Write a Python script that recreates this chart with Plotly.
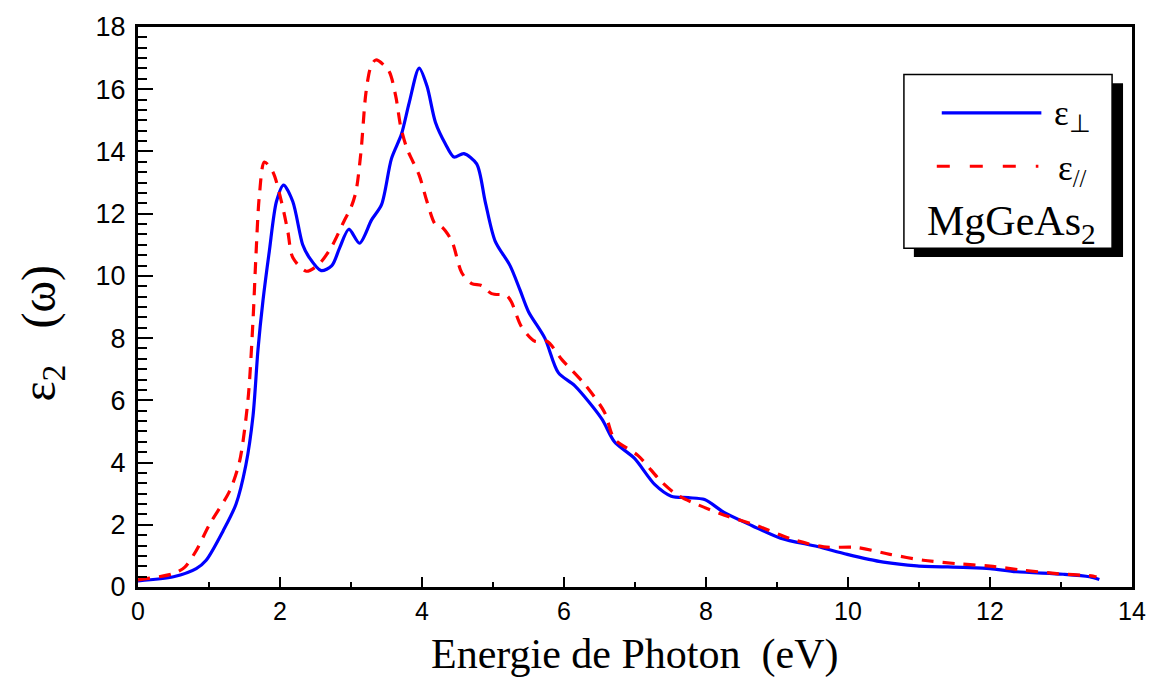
import plotly.graph_objects as go

# ---- data ----
e_perp = [0.0, 0.5, 0.82, 0.96, 1.2, 1.38, 1.52, 1.62, 1.69, 1.76, 1.85, 1.95, 2.05,
          2.18, 2.32, 2.41, 2.58, 2.73, 2.84, 2.97, 3.12, 3.29, 3.43, 3.57, 3.71, 3.82,
          3.96, 4.07, 4.19, 4.33, 4.45, 4.59, 4.77, 4.89, 5.03, 5.24, 5.38, 5.50, 5.73,
          5.92, 6.15, 6.53, 6.71, 6.99, 7.28, 7.51, 7.75, 7.98, 8.26, 8.65, 9.05, 9.57,
          9.99, 10.5, 10.97, 11.62, 12.0, 12.37, 13.03, 13.4, 13.54]
v_perp = [0.2, 0.33, 0.59, 0.86, 1.81, 2.66, 3.93, 5.5, 7.63, 9.2, 10.8, 12.39, 12.92,
          12.39, 11.0, 10.6, 10.17, 10.33, 10.9, 11.5, 11.05, 11.8, 12.29, 13.77, 14.55, 15.57,
          16.68, 16.1, 14.93, 14.24, 13.82, 13.93, 13.6, 12.39, 11.12, 10.33, 9.55, 8.85, 8.0,
          6.89, 6.47, 5.41, 4.67, 4.14, 3.29, 2.92, 2.87, 2.81, 2.39, 1.97, 1.57, 1.30,
          1.05, 0.80, 0.68, 0.63, 0.59, 0.49, 0.41, 0.33, 0.24]

e_par = [0.0, 0.5, 0.66, 0.82, 1.01, 1.29, 1.43, 1.55, 1.62, 1.66, 1.71, 1.78, 1.90,
         2.02, 2.11, 2.18, 2.37, 2.55, 2.73, 2.90, 3.0, 3.07, 3.14, 3.21, 3.28, 3.35,
         3.53, 3.63, 3.70, 3.79, 3.96, 4.07, 4.19, 4.28, 4.42, 4.56, 4.70, 4.84, 4.98,
         5.19, 5.26, 5.40, 5.59, 5.76, 5.97, 6.29, 6.57, 6.71, 7.04, 7.37, 7.6, 7.88,
         8.26, 8.72, 9.19, 9.66, 10.13, 10.59, 11.06, 11.53, 12.0, 12.47, 12.94, 13.45, 13.5]
v_par = [0.23, 0.43, 0.64, 1.17, 2.02, 3.08, 4.03, 6.04, 8.58, 10.59, 12.6, 13.66, 13.34,
         12.39, 11.43, 10.59, 10.15, 10.38, 10.95, 11.75, 12.2, 12.71, 13.98, 15.88, 16.73, 16.94,
         16.6, 15.78, 14.8, 14.08, 13.24, 12.39, 11.65, 11.57, 11.12, 10.1, 9.75, 9.69, 9.43,
         9.37, 9.16, 8.37, 7.9, 7.9, 7.31, 6.52, 5.62, 4.76, 4.23, 3.39, 2.95, 2.65,
         2.31, 1.97, 1.55, 1.29, 1.27, 1.05, 0.86, 0.75, 0.67, 0.54, 0.43, 0.35, 0.32]

x_ticks = [0, 2, 4, 6, 8, 10, 12, 14]
y_ticks = [0, 2, 4, 6, 8, 10, 12, 14, 16, 18]

# ---- layout geometry (pixels) ----
W, H = 1158, 678
L, R, T, B = 138, 1136, 20, 587
PW, PH = R - L, B - T


def px(x):
    return (x - L) / PW


def py(y):
    return (B - y) / PH


fig = go.Figure()
fig.add_trace(go.Scatter(x=e_perp, y=v_perp, mode="lines", name="perp",
                         line=dict(color="#0000FF", width=3.2, shape="spline", smoothing=0.8),
                         showlegend=False))
fig.add_trace(go.Scatter(x=e_par, y=v_par, mode="lines", name="par",
                         line=dict(color="#FF0000", width=3.2, dash="12px,9px",
                                   shape="spline", smoothing=0.8),
                         showlegend=False))

axis_common = dict(showgrid=False, zeroline=False, showline=True, linecolor="black",
                   linewidth=3, mirror=True, ticks="inside", tickcolor="black",
                   tickwidth=2)

fig.update_xaxes(range=[0, 14], tickvals=x_ticks, ticklen=10,
                 tickfont=dict(family="Liberation Sans", size=25, color="black"),
                 minor=dict(dtick=1, ticklen=5, tickwidth=2, ticks="inside", tickcolor="black"),
                 **axis_common)
fig.update_yaxes(range=[0, 18], tickvals=y_ticks, ticklen=15, ticklabelstandoff=4,
                 tickfont=dict(family="Liberation Sans", size=27, color="black"),
                 minor=dict(dtick=2/6, ticklen=9, tickwidth=2, ticks="inside", tickcolor="black"),
                 **axis_common)

shapes = []
# legend shadow and box
shapes.append(dict(type="rect", xref="paper", yref="paper",
                   x0=px(917), x1=px(1127), y0=py(253), y1=py(77),
                   fillcolor="black", line=dict(width=0), layer="above"))
shapes.append(dict(type="rect", xref="paper", yref="paper",
                   x0=px(907), x1=px(1116), y0=py(244), y1=py(68),
                   fillcolor="white", line=dict(color="black", width=1.5), layer="above"))
# legend line samples
shapes.append(dict(type="line", xref="paper", yref="paper",
                   x0=px(945), x1=px(1045), y0=py(107), y1=py(107),
                   line=dict(color="#0000FF", width=3.2), layer="above"))
shapes.append(dict(type="line", xref="paper", yref="paper",
                   x0=px(940), x1=px(1042), y0=py(161), y1=py(161),
                   line=dict(color="#FF0000", width=3.2, dash="13px,20px"), layer="above"))

ann = []
serif = "Liberation Serif"
ann.append(dict(xref="paper", yref="paper", x=px(1056), y=py(110), xanchor="left",
                yanchor="middle", showarrow=False, text="ε<sub>⊥</sub>",
                font=dict(family=serif, size=35, color="black")))
ann.append(dict(xref="paper", yref="paper", x=px(1060), y=py(165), xanchor="left",
                yanchor="middle", showarrow=False, text="ε<sub>//</sub>",
                font=dict(family=serif, size=35, color="black")))
ann.append(dict(xref="paper", yref="paper", x=px(928), y=py(219), xanchor="left",
                yanchor="middle", showarrow=False, text="MgGeAs<sub>2</sub>",
                font=dict(family=serif, size=42, color="black")))
# axis titles
ann.append(dict(xref="paper", yref="paper", x=px(636), y=py(655), xanchor="center",
                yanchor="middle", showarrow=False, text="Energie de Photon  (eV)",
                font=dict(family=serif, size=42, color="black")))
ann.append(dict(xref="paper", yref="paper", x=px(42), y=py(330), xanchor="center",
                yanchor="middle", showarrow=False, textangle=-90, text="ε<sub>2</sub>   (ω)",
                font=dict(family=serif, size=48, color="black")))

fig.update_layout(width=W, height=H, margin=dict(l=L, r=W - R, t=T, b=H - B),
                  paper_bgcolor="white", plot_bgcolor="white",
                  shapes=shapes, annotations=ann)

fig.write_html("out.html")
